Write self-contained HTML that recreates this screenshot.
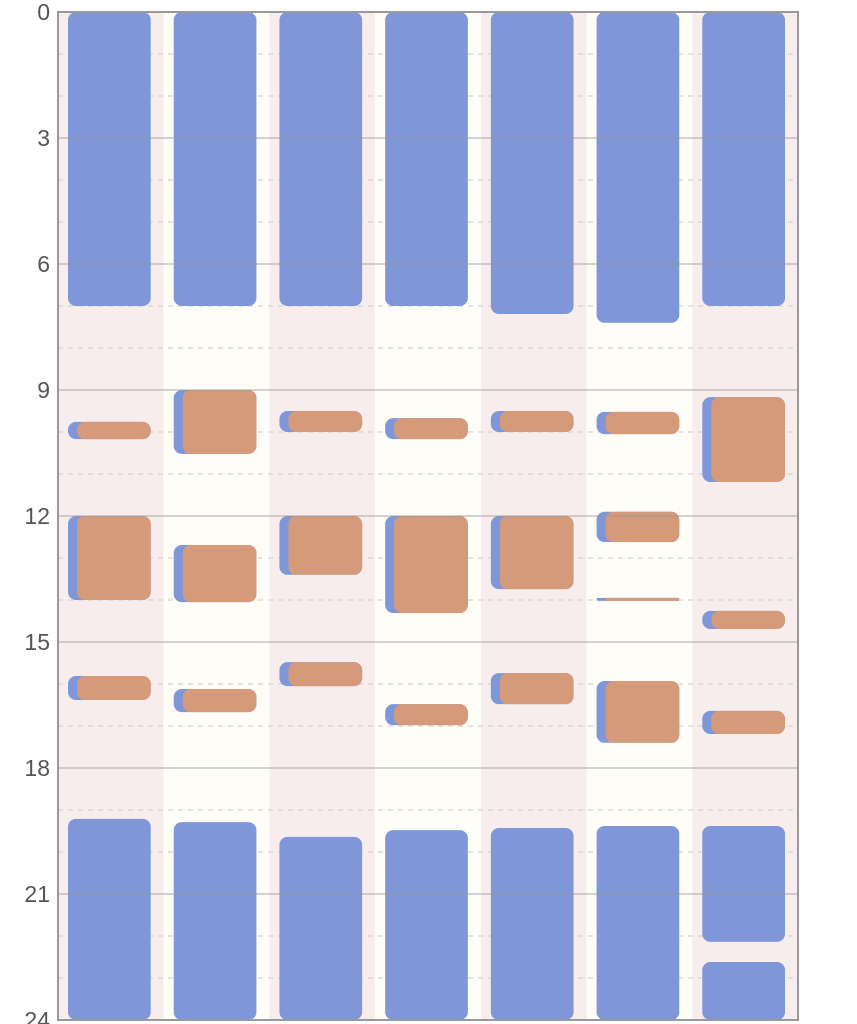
<!DOCTYPE html>
<html><head><meta charset="utf-8"><style>
html,body{margin:0;padding:0;background:#fff;}
svg{display:block;font-family:"Liberation Sans","Noto Sans CJK JP",sans-serif;}
</style></head><body>
<svg id="chart" width="857" height="1024" viewBox="0 0 857 1024"></svg>
<script>
const days = ["d1","d2","d3","d4","d5","d6","d7"];
const yTicks = [0,3,6,9,12,15,18,21,24];
const sleepMorning = [[0,7.0],[0,7.0],[0,7.0],[0,7.0],[0,7.19],[0,7.4],[0,7.0]];
const sleepNight = [[[19.21,24]],[[19.29,24]],[[19.64,24]],[[19.48,24]],[[19.43,24]],[[19.38,24]],[[19.38,22.14],[22.62,24]]];
const activities = [
 [[9.76,10.17],[12.0,14.0],[15.81,16.38]],
 [[9.0,10.52],[12.69,14.05],[16.12,16.67]],
 [[9.5,10.0],[12.0,13.4],[15.48,16.05]],
 [[9.67,10.17],[12.0,14.31],[16.48,16.98]],
 [[9.5,10.0],[12.0,13.74],[15.74,16.48]],
 [[9.52,10.05],[11.9,12.62],[13.95,14.02],[15.93,17.4]],
 [[9.17,11.19],[14.26,14.69],[16.64,17.19]]
];
const L=58,R=798,T=12,B=1020;
const NS="http://www.w3.org/2000/svg";
const svg=document.getElementById('chart');
const colW=(R-L)/days.length;
const y=v=>T+(v/24)*(B-T);
const x=i=>L+i*colW;
function mk(tag,attrs,parent){const e=document.createElementNS(NS,tag);for(const k in attrs)e.setAttribute(k,attrs[k]);(parent||svg).appendChild(e);return e;}
// backgrounds
days.forEach((d,i)=>{
 const r=mk('rect',{x:x(i),y:T,width:colW,height:B-T,fill:i%2?'#fffdf8':'#f8eded'});
 
 
});
// minor dashed grid
for(let h=1;h<24;h++){ if(h%3===0) continue;
 const l=mk('line',{x1:L,x2:R,y1:y(h),y2:y(h),stroke:'#d6d2d2','stroke-width':1.2,'stroke-dasharray':'5,5'});
 
 
}
function bar(i,a,b,color,off,name){
 const r=mk('rect',{x:x(i)+10+off,y:y(a),width:colW-23-off,height:Math.max(1,y(b)-y(a)),rx:8,ry:8,fill:color});
 if(y(b)-y(a)<16){r.setAttribute('rx',Math.max(1,(y(b)-y(a))/2));r.setAttribute('ry',Math.max(1,(y(b)-y(a))/2));}
 
 
}
days.forEach((d,i)=>{
 bar(i,sleepMorning[i][0],sleepMorning[i][1],'#7f96d9',0,'sleep-bar-morning');
 sleepNight[i].forEach(s=>bar(i,s[0],s[1],'#7f96d9',0,'sleep-bar-night'));
 activities[i].forEach(s=>{bar(i,s[0],s[1],'#7f96d9',0,'activity-shadow');bar(i,s[0],s[1],'#d49a7a',9,'activity-bar');});
});
// major grid
yTicks.forEach(t=>{
 if(t>0&&t<24){const l=mk('line',{x1:L,x2:R,y1:y(t),y2:y(t),stroke:'rgba(150,150,150,0.55)','stroke-width':1.5});
 
 }
 const tx=mk('text',{x:50,y:y(t)+8,'text-anchor':'end','font-size':23,fill:'#555'});
 tx.textContent=t;
 
 
});
const fr=mk('rect',{x:L,y:T,width:R-L,height:B-T,fill:'none',stroke:'#999','stroke-width':2});


</script>
</body></html>
